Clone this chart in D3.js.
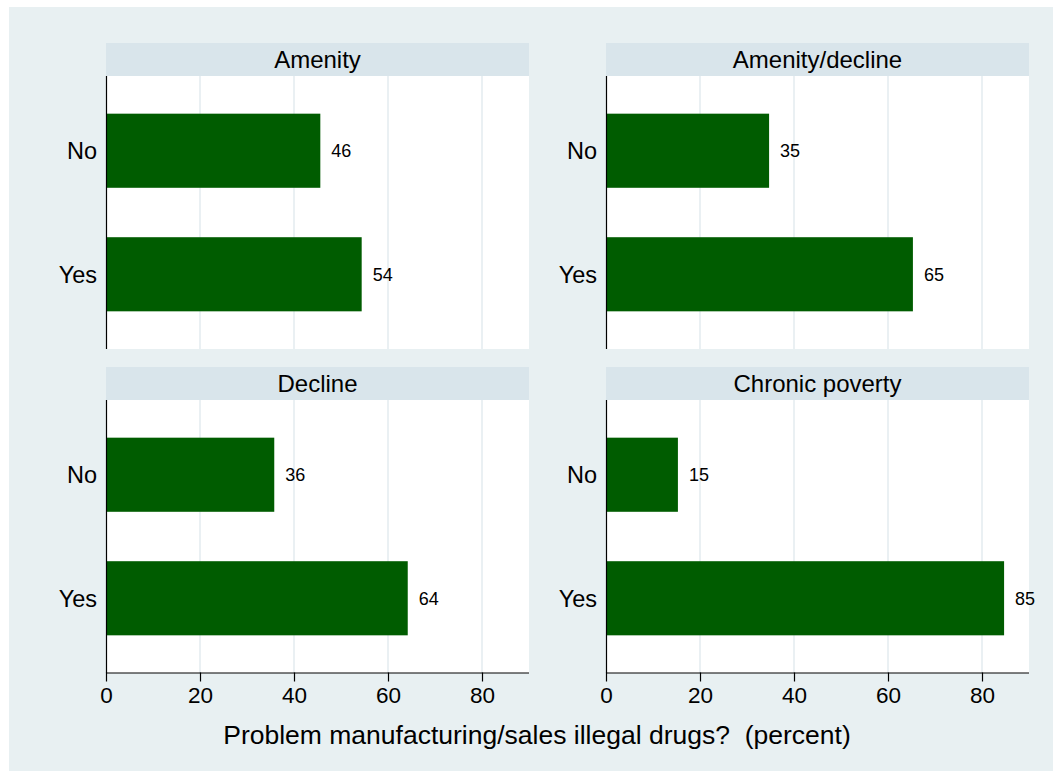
<!DOCTYPE html>
<html>
<head>
<meta charset="utf-8">
<script src="https://cdn.jsdelivr.net/npm/d3@7"></script>
<style>
  body { margin: 0; background: #fff; }
  svg { display: block; font-family: "Liberation Sans", Arial, sans-serif; }
</style>
</head>
<body>
<svg width="1053" height="771"></svg>
<script>
// Data (percent within each area type)
const panels = ["Amenity", "Amenity/decline", "Decline", "Chronic poverty"];
const categories = ["No", "Yes"];
const noValues = [45.6, 34.7, 35.8, 15.3];
const yesValues = [54.4, 65.3, 64.2, 84.7];
const xTicks = [0, 20, 40, 60, 80];
const xTitle = "Problem manufacturing/sales illegal drugs?  (percent)";

const svg = d3.select("svg"), width = +svg.attr("width"),
    height = +svg.attr("height");

const barColor = "#005c00", gridColor = "#e3ebef";
const headerColor = "#d9e5eb", bgColor = "#e8f0f2";

// panel geometry
const colX = [106, 606], plotW = 423;
const rowY = [43, 367], headerH = 33, plotH = 273;

svg.append("rect")
    .attr("x", 9).attr("y", 7)
    .attr("width", width - 9).attr("height", height - 7)
    .style("fill", bgColor);

panels.forEach((name, i) => {
    const col = i % 2, row = Math.floor(i / 2);
    drawPanel(name, [noValues[i], yesValues[i]], colX[col], rowY[row], row === 1);
});

svg.append("text")
    .attr("x", 537)
    .attr("y", 744)
    .attr("text-anchor", "middle")
    .style("font-size", "26.5px")
    .style("white-space", "pre")
    .style("fill", "black")
    .text(xTitle);

/////////////HELPERS//////////////////

function drawPanel(name, values, x0, y0, showAxis) {
    const top = y0 + headerH;
    const g = svg.append("g");

    g.append("rect")
        .attr("x", x0).attr("y", y0)
        .attr("width", plotW).attr("height", headerH)
        .style("fill", headerColor);

    g.append("text")
        .attr("x", x0 + plotW / 2)
        .attr("y", y0 + headerH / 2)
        .attr("dy", "0.36em")
        .attr("text-anchor", "middle")
        .style("font-size", "24px")
        .text(name);

    g.append("rect")
        .attr("x", x0).attr("y", top)
        .attr("width", plotW).attr("height", plotH)
        .style("fill", "white");

    const x = d3.scaleLinear().domain([0, 90]).range([x0, x0 + plotW]);
    const y = d3.scaleBand().domain(categories)
        .range([top, top + plotH])
        .paddingInner(0.4)
        .paddingOuter(0.305);

    // vertical grid
    g.append("g")
        .selectAll("line")
        .data(xTicks.filter(d => d > 0))
        .enter().append("line")
        .attr("x1", d => x(d)).attr("x2", d => x(d))
        .attr("y1", top).attr("y2", top + plotH)
        .style("stroke", gridColor)
        .style("stroke-width", 1.5);

    const data = categories.map((c, j) => ({cat: c, value: values[j]}));

    g.append("g")
        .selectAll("rect")
        .data(data)
        .enter().append("rect")
        .attr("x", x(0))
        .attr("y", d => y(d.cat))
        .attr("width", d => x(d.value) - x(0))
        .attr("height", y.bandwidth())
        .style("fill", barColor);

    g.append("g")
        .selectAll("text")
        .data(data)
        .enter().append("text")
        .attr("x", d => x(d.value) + 11)
        .attr("y", d => y(d.cat) + y.bandwidth() / 2)
        .attr("dy", "0.36em")
        .style("font-size", "18px")
        .text(d => d3.format(".0f")(d.value));

    // category labels
    g.append("g")
        .selectAll("text")
        .data(categories)
        .enter().append("text")
        .attr("x", x0 - 9)
        .attr("y", d => y(d) + y.bandwidth() / 2)
        .attr("dy", "0.36em")
        .attr("text-anchor", "end")
        .style("font-size", "23.5px")
        .text(d => d);

    g.append("line")
        .attr("x1", x0 + 0.5).attr("x2", x0 + 0.5)
        .attr("y1", top).attr("y2", top + plotH)
        .style("stroke", "black")
        .style("stroke-width", 1.2);

    if (showAxis) {
        const axis = g.append("g")
            .attr("transform", `translate(0,${top + plotH - 0.5})`)
            .call(d3.axisBottom(x).tickValues(xTicks).tickSize(9).tickPadding(6));
        axis.select(".domain")
            .attr("d", `M${x0},0.5H${x0 + plotW}`)
            .style("stroke-width", 1.2);
        axis.selectAll(".tick line").style("stroke-width", 1.2);
        axis.selectAll("text")
            .style("font-family", "Liberation Sans, Arial, sans-serif")
            .style("font-size", "22.5px");
    }
}
</script>
</body>
</html>
